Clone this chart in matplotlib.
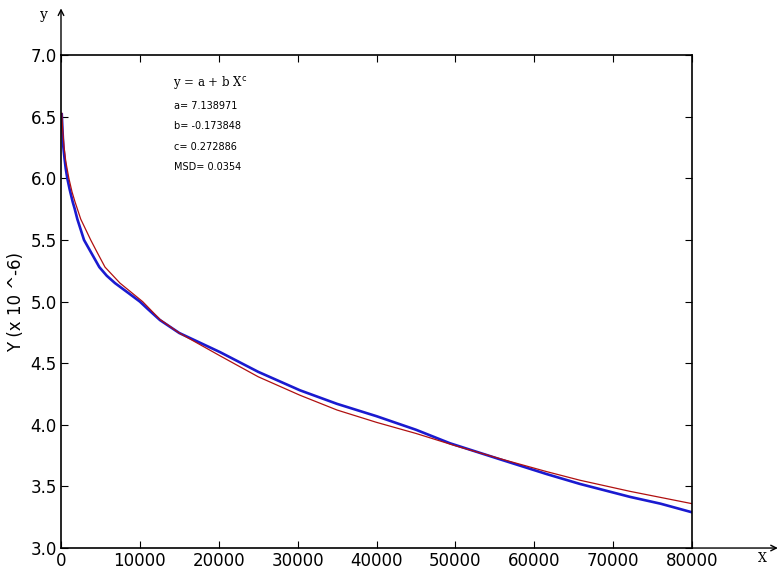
import matplotlib.pyplot as plt

data_x = [100, 200, 290, 450, 600, 800, 1100, 1480, 1730, 2070, 2920, 3890,
          4860, 5800, 6850, 8540, 10000, 11000, 12550, 15000, 17500, 20160,
          25000, 30300, 35000, 40000, 45000, 49320, 55660, 61580, 65800,
          72140, 76000, 80000]
data_y = [6.52, 6.38, 6.26, 6.16, 6.08, 6.00, 5.91, 5.81, 5.755, 5.67, 5.50, 5.39,
          5.28, 5.21, 5.15, 5.07, 5.00, 4.94, 4.85, 4.745, 4.67, 4.59,
          4.43, 4.28, 4.17, 4.07, 3.96, 3.85, 3.72, 3.60, 3.52,
          3.415, 3.36, 3.29]

# fitted curve (red)
fit_x = [100, 200, 400, 600, 1000, 1400, 1775, 2500, 3770, 4500, 5580, 7480,
         10350, 12550, 15000, 20160, 25000, 30300, 35000, 40000, 45000, 50000,
         55660, 61580, 65800, 72140, 80000]
fit_y = [6.53, 6.40, 6.25, 6.14, 6.00, 5.89, 5.81, 5.67, 5.50, 5.41, 5.28, 5.15,
         5.00, 4.855, 4.745, 4.56, 4.39, 4.24, 4.12, 4.02, 3.93, 3.83,
         3.725, 3.62, 3.55, 3.46, 3.36]

fit_text = ["a= 7.138971", "b= -0.173848", "c= 0.272886", "MSD= 0.0354"]

fig = plt.figure(figsize=(7.81, 5.86), dpi=100)
ax = fig.add_axes([0.0781, 0.0648, 0.808, 0.841])

ax.plot(data_x, data_y, color="#1a1ad0", lw=1.9)
ax.plot(fit_x, fit_y, color="#b01010", lw=0.9)

ax.set_xlim(0, 80000)
ax.set_ylim(3.0, 7.0)
ax.set_xticks(range(0, 80001, 10000))
ax.set_yticks([3.0, 3.5, 4.0, 4.5, 5.0, 5.5, 6.0, 6.5, 7.0])
ax.set_yticklabels(["%.1f" % v for v in ax.get_yticks()])
ax.tick_params(direction="in", top=True, right=True, length=5, labelsize=12, pad=3)
for s in ax.spines.values():
    s.set_linewidth(1.2)
ax.set_ylabel("Y (x 10 ^-6)", fontsize=12, labelpad=4)

# axis arrows
ax.annotate("", xy=(0, 1.095), xytext=(0, 1.0), xycoords="axes fraction",
            arrowprops=dict(arrowstyle="->", lw=1, shrinkA=0, shrinkB=0))
ax.annotate("", xy=(1.136, 0), xytext=(1.0, 0), xycoords="axes fraction",
            arrowprops=dict(arrowstyle="->", lw=1, shrinkA=0, shrinkB=0))
ax.text(-0.027, 1.081, "y", transform=ax.transAxes, family="serif",
        fontsize=10, ha="center", va="center")
ax.text(1.111, -0.022, "X", transform=ax.transAxes, family="serif",
        fontsize=9, ha="center", va="center", clip_on=False)

# fit annotation
ax.text(0.178, 0.944, r"y = a + b X$^{\mathrm{c}}$", transform=ax.transAxes,
        family="serif", fontsize=8.5, va="center")
for i, t in enumerate(fit_text):
    ax.text(0.179, 0.897 - i * 0.0415, t, transform=ax.transAxes,
            fontsize=7, va="center")

fig.savefig("out.png", dpi=100)
